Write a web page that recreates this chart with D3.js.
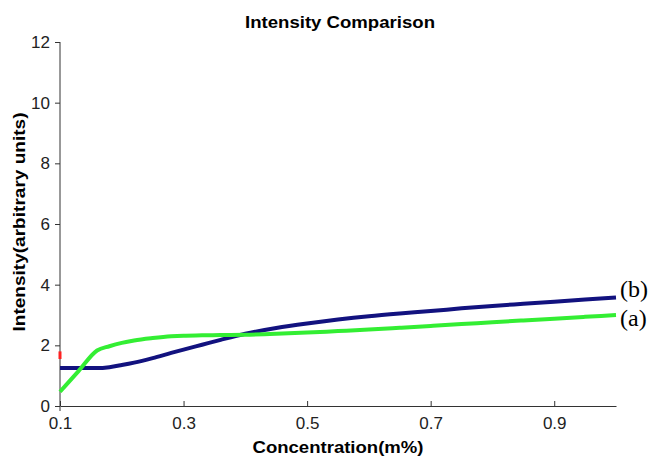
<!DOCTYPE html>
<html lang="en">
<head>
    <meta charset="UTF-8">
    <title>Intensity Comparison</title>
    <script src="https://d3js.org/d3.v7.min.js"></script>
</head>
<style>
    body {
        margin: 0;
        background: white;
    }
    .axis path, .axis line {
        stroke: #333;
    }
    .axis text {
        font-family: "Liberation Sans", sans-serif;
        font-size: 17px;
        fill: #222;
    }
</style>
<body>
    <svg id="chart" width="651" height="458"></svg>
</body>
<script>
    // concentration (m%) and intensities
    const conc = [0.10, 0.13, 0.16, 0.18, 0.20, 0.22, 0.25, 0.28, 0.30, 0.33, 0.36, 0.40,
                  0.45, 0.50, 0.55, 0.60, 0.65, 0.70, 0.75, 0.80, 0.85, 0.90, 0.95, 1.00]
    const seriesB = [1.25, 1.25, 1.25, 1.28, 1.35, 1.43, 1.58, 1.75, 1.86, 2.02, 2.18, 2.38,
                     2.57, 2.72, 2.85, 2.96, 3.05, 3.13, 3.22, 3.30, 3.37, 3.44, 3.51, 3.58]
    const seriesA = [0.47, 1.15, 1.83, 1.97, 2.08, 2.16, 2.24, 2.30, 2.32, 2.33, 2.34, 2.35,
                     2.38, 2.42, 2.47, 2.52, 2.58, 2.64, 2.70, 2.76, 2.82, 2.88, 2.94, 3.00]
    const redConc = [0.10, 0.10]
    const redVals = [1.55, 1.80]
    const xTicks = [0.1, 0.3, 0.5, 0.7, 0.9]
    const yTicks = [0, 2, 4, 6, 8, 10, 12]

    const svg = d3.select("#chart")
    const x = d3.scaleLinear().domain([0.1, 1.0]).range([60, 616])
    const y = d3.scaleLinear().domain([0, 12]).range([406, 42])

    // axes
    svg.append("g")
        .attr("class", "axis")
        .attr("transform", "translate(0,406)")
        .call(d3.axisBottom(x).tickValues(xTicks).tickSizeInner(-5).tickSizeOuter(0)
            .tickPadding(11).tickFormat(d3.format(".1f")))
    svg.append("g")
        .attr("class", "axis")
        .attr("transform", "translate(60,0)")
        .call(d3.axisLeft(y).tickValues(yTicks).tickSizeInner(5).tickSizeOuter(0).tickPadding(5))
        .call(g => g.select(".domain").attr("d", "M0,42V411"))

    const line = (xs, ys) => d3.line()
        .x(i => x(xs[i]))
        .y(i => y(ys[i]))
        .curve(d3.curveMonotoneX)(d3.range(xs.length))

    svg.append("path")
        .attr("d", line(conc, seriesB))
        .attr("fill", "none")
        .attr("stroke", "#12127f")
        .attr("stroke-width", 4)
    svg.append("path")
        .attr("d", line(conc, seriesA))
        .attr("fill", "none")
        .attr("stroke", "#33ee33")
        .attr("stroke-width", 4)
    svg.append("path")
        .attr("d", d3.line().x(i => x(redConc[i])).y(i => y(redVals[i]))(d3.range(2)))
        .attr("fill", "none")
        .attr("stroke", "#ff2020")
        .attr("stroke-width", 3)

    // series labels
    const labelFont = "Liberation Serif, serif"
    svg.append("text")
        .attr("x", 620).attr("y", 297)
        .attr("font-family", labelFont).attr("font-size", 24)
        .text("(b)")
    svg.append("text")
        .attr("x", 620).attr("y", 326)
        .attr("font-family", labelFont).attr("font-size", 24)
        .text("(a)")

    // titles
    const bold = (t, size, len) => t
        .attr("font-family", "Liberation Sans, sans-serif")
        .attr("font-weight", "bold").attr("font-size", size)
        .attr("textLength", len).attr("lengthAdjust", "spacingAndGlyphs")
    bold(svg.append("text").attr("x", 340).attr("y", 28).attr("text-anchor", "middle"), 17, 190)
        .text("Intensity Comparison")
    bold(svg.append("text").attr("x", 338).attr("y", 453).attr("text-anchor", "middle"), 17, 171)
        .text("Concentration(m%)")
    bold(svg.append("text").attr("transform", "translate(25,222) rotate(-90)")
        .attr("text-anchor", "middle"), 17, 219)
        .text("Intensity(arbitrary units)")
</script>
</html>
